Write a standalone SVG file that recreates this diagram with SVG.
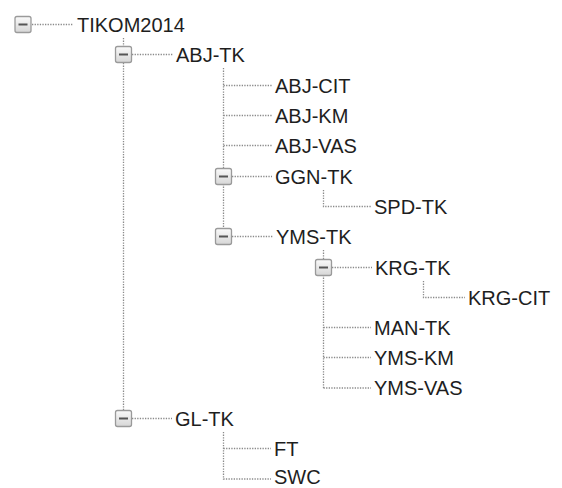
<svg xmlns="http://www.w3.org/2000/svg" width="562" height="488" viewBox="0 0 562 488">
<style>
.t{font-family:"Liberation Sans",Arial,sans-serif;font-size:20px;fill:#1e1e1e}
.c{stroke:#8a8a8a;stroke-width:1.3;stroke-dasharray:1.3 1.3;fill:none}
.bx{fill:url(#g);stroke:#9a9a9a;stroke-width:1.3}
.mn{stroke:#555;stroke-width:2}
</style>
<defs>
<linearGradient id="g" x1="0" y1="0" x2="0" y2="1">
<stop offset="0" stop-color="#fafafa"/>
<stop offset="1" stop-color="#d6d6d6"/>
</linearGradient>
<g id="exp"><rect class="bx" x="-8" y="-8" width="16" height="16" rx="2"/><line class="mn" x1="-4.5" y1="0" x2="4.5" y2="0"/></g>
</defs>
<rect width="562" height="488" fill="#ffffff"/>
<g id="connectors">
<path class="c" d="M32 24.5H73"/>
<path class="c" d="M123.5 38V46M123.5 63V410"/>
<path class="c" d="M132 54.5H173"/>
<path class="c" d="M223.5 68V168M223.5 184V228"/>
<path class="c" d="M223.5 85.5H272M223.5 115.5H272M223.5 145.5H272"/>
<path class="c" d="M232 176.5H272"/>
<path class="c" d="M323.5 190V206.5H371"/>
<path class="c" d="M232 236.5H273"/>
<path class="c" d="M323.5 250V259M323.5 275V388"/>
<path class="c" d="M332 267.5H372"/>
<path class="c" d="M423.5 281V297.5H465"/>
<path class="c" d="M323.5 327.5H371M323.5 357.5H371M323.5 388H371"/>
<path class="c" d="M132 418.5H172"/>
<path class="c" d="M223.5 432V479H271M223.5 448.5H271"/>
</g>
<g id="n-TIKOM2014"><use href="#exp" x="23" y="24.5"/><text class="t" x="77" y="31.5">TIKOM2014</text></g>
<g id="n-ABJ-TK"><use href="#exp" x="123.5" y="54.5"/><text class="t" x="176" y="61.5">ABJ-TK</text></g>
<g id="n-ABJ-CIT"><text class="t" x="275" y="92.5">ABJ-CIT</text></g>
<g id="n-ABJ-KM"><text class="t" x="275" y="122.5">ABJ-KM</text></g>
<g id="n-ABJ-VAS"><text class="t" x="275" y="152.5">ABJ-VAS</text></g>
<g id="n-GGN-TK"><use href="#exp" x="223.5" y="176.5"/><text class="t" x="275" y="183.5">GGN-TK</text></g>
<g id="n-SPD-TK"><text class="t" x="374" y="213.5">SPD-TK</text></g>
<g id="n-YMS-TK"><use href="#exp" x="223.5" y="236.5"/><text class="t" x="276" y="243.5">YMS-TK</text></g>
<g id="n-KRG-TK"><use href="#exp" x="323.5" y="267.5"/><text class="t" x="375" y="274.5">KRG-TK</text></g>
<g id="n-KRG-CIT"><text class="t" x="468" y="304.5">KRG-CIT</text></g>
<g id="n-MAN-TK"><text class="t" x="374" y="334.5">MAN-TK</text></g>
<g id="n-YMS-KM"><text class="t" x="374" y="364.5">YMS-KM</text></g>
<g id="n-YMS-VAS"><text class="t" x="374" y="395">YMS-VAS</text></g>
<g id="n-GL-TK"><use href="#exp" x="123.5" y="418.5"/><text class="t" x="175" y="425.5">GL-TK</text></g>
<g id="n-FT"><text class="t" x="274" y="455.5">FT</text></g>
<g id="n-SWC"><text class="t" x="274" y="484">SWC</text></g>
</svg>
